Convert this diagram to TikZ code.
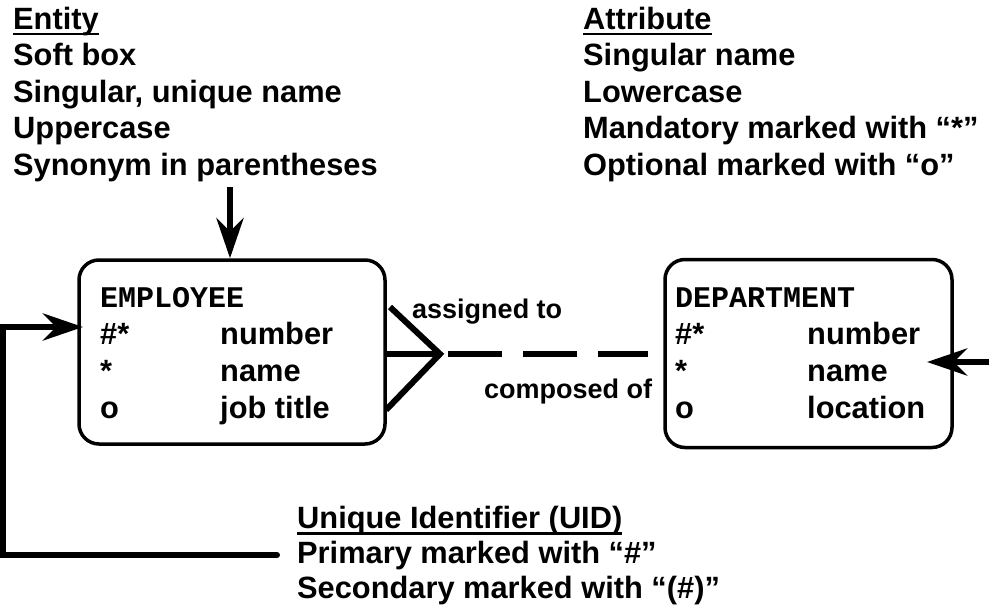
\documentclass[tikz,border=0pt]{standalone}
\usepackage{fontspec}
\setmainfont{Liberation Sans}
\setmonofont{Liberation Mono}
\usetikzlibrary{arrows.meta,calc}

\newcommand{\undl}[1]{\setbox0\hbox{#1}\rlap{\rule[-6.5pt]{\wd0}{2.5pt}}\box0}

\begin{document}
\begin{tikzpicture}
      [x = 1pt, y = -1pt,
      txt/.style = {
         anchor = base west,
         inner sep = 0pt,
         font = \fontsize{30.8}{36}\selectfont\bfseries
      },
      small/.style = {txt, font = \fontsize{27}{32}\selectfont\bfseries},
      code/.style = {txt, font = \fontsize{30}{36}\selectfont\ttfamily\bfseries},
      entity/.style = {
         draw,
         rounded corners = 20pt,
         line width = 3.5pt
      },
      link/.style = {line width = 6pt},
      arr/.style = {link, -{Stealth[length = 40pt, width = 27pt, inset = 13pt]}}]
      \useasboundingbox (0, 0) rectangle (989, 613);

      % notes
      \node[txt] (ent0) at (13, 29) {\undl{Entity}};
      \foreach \t [count = \i] in {Soft box, {Singular, unique name}, Uppercase, Synonym in parentheses}
         \node[txt] (ent\i) at (13, 29 + 36.5*\i) {\t};

      \node[txt] (att0) at (583, 29) {\undl{Attribute}};
      \foreach \t [count = \i] in {Singular name, Lowercase, Mandatory marked with “*”, Optional marked with “o”}
         \node[txt] (att\i) at (583, 29 + 36.5*\i) {\t};

      \node[txt] (uid0) at (297, 528) {\undl{Unique Identifier (UID)}};
      \node[txt] (uid1) at (297, 563) {Primary marked with “\#”};
      \node[txt] (uid2) at (297, 598) {Secondary marked with “(\#)”};

      % entities
      \node[entity, minimum width = 306pt, minimum height = 184pt] (emp) at (232, 352) {};
      \node[code] (emptitle) at (100, 307) {EMPLOYEE};
      \foreach \m/\a [count = \i] in {\#*/number, */name, o/job title} {
         \node[txt] (empm\i) at (100, 307 + 37*\i) {\m};
         \node[txt] (empa\i) at (220, 307 + 37*\i) {\a};
      }

      \node[entity, minimum width = 287pt, minimum height = 188pt] (dept) at (808.5, 353.5) {};
      \node[code] (depttitle) at (675, 307) {DEPARTMENT};
      \foreach \m/\a [count = \i] in {\#*/number, */name, o/location} {
         \node[txt] (deptm\i) at (675, 307 + 37*\i) {\m};
         \node[txt] (depta\i) at (807, 307 + 37*\i) {\a};
      }

      % relationship
      \coordinate (crow) at (440, 354);
      \draw[link] (emp.east |- crow) -- (crow);
      \draw[link] ($(crow)+(-50, -47)$) -- (crow) -- ($(crow)+(-54, 56)$);
      \draw[link, dash pattern = on 54pt off 21pt] ($(crow)+(8, 0)$) -- ($(dept.west |- crow)+(-15, 0)$);
      \node[small] (assigned) at (412, 318) {assigned to};
      \node[small] (composed) at (484, 398) {composed of};

      % pointers
      \coordinate (enttail) at (230, 187);
      \draw[arr] (enttail) -- (emp.north -| enttail);

      \coordinate (atttail) at (992, 362);
      \coordinate (atthead) at (927, 362);
      \draw[arr] (atttail) -- (atthead);

      \coordinate (uidtail) at (277, 555);
      \coordinate (uidhead) at (83, 327);
      \draw[arr, line cap = round] (uidtail) -- (3, 555) -- (3, 327) -- (uidhead);

   \end{tikzpicture}
\end{document}
